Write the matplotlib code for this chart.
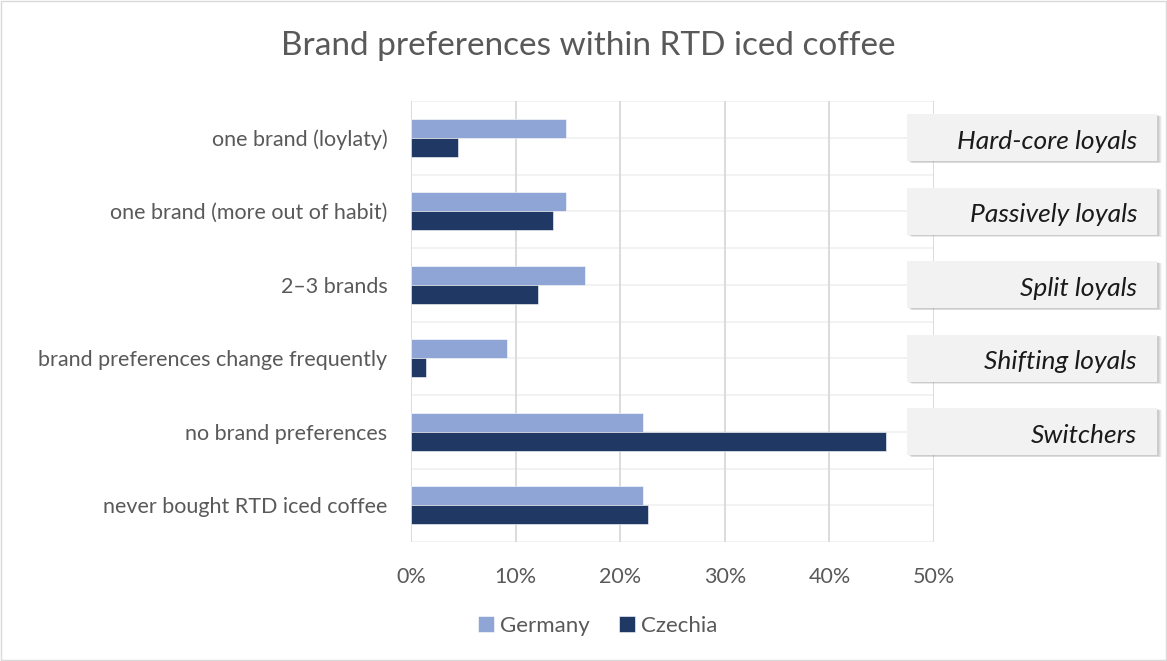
import matplotlib.pyplot as plt
from matplotlib.patches import Rectangle
from matplotlib.transforms import blended_transform_factory
import numpy as np

plt.rcParams['font.family'] = ['Lato', 'DejaVu Sans']

categories = ['one brand (loylaty)', 'one brand (more out of habit)', '2\u20133 brands',
              'brand preferences change frequently', 'no brand preferences',
              'never bought RTD iced coffee']
germany = [14.8, 14.8, 16.6, 9.2, 22.2, 22.2]
czechia = [4.5, 13.6, 12.1, 1.4, 45.4, 22.7]
segments = ['Hard-core loyals', 'Passively loyals', 'Split loyals', 'Shifting loyals', 'Switchers']

c_ger = '#8fa5d5'
c_cze = '#1f3864'
grey_txt = '#595959'

fig = plt.figure(figsize=(11.67, 6.61), dpi=100)
ax = fig.add_axes([411/1167, 1-542/661, (934-411)/1167, (542-101)/661])

y = np.arange(len(categories))[::-1]
h = 0.26
ax.barh(y + h/2, germany, h, color=c_ger, edgecolor='white', linewidth=0.4, label='Germany', zorder=3)
ax.barh(y - h/2, czechia, h, color=c_cze, edgecolor='white', linewidth=0.4, label='Czechia', zorder=3)

ax.set_xlim(0, 50)
ax.set_ylim(-0.5, 5.5)
ax.set_xticks(range(0, 51, 10))
ax.set_xticklabels([f'{v}%' for v in range(0, 51, 10)])
ax.set_yticks(y)
ax.set_yticklabels(categories)
ax.tick_params(length=0, labelsize=15.5, labelcolor=grey_txt)
ax.tick_params(axis='x', pad=18)
ax.tick_params(axis='y', pad=17)

for v in range(0, 51, 10):
    ax.axvline(v, color='#d9d9d9', lw=1.3, zorder=1)
for yy in np.arange(-0.5, 5.51, 0.5):
    ax.axhline(yy, color='#f0f0f0', lw=1.2, zorder=0.5)
for s in ax.spines.values():
    s.set_visible(False)

# segment boxes on the right
tr = blended_transform_factory(fig.transFigure, ax.transData)
x0, x1 = 907/1167, 1157/1167
bh = 0.64
for i, name in enumerate(segments):
    yc = y[i]
    for dx, a in [(5, 0.08), (4, 0.1), (3, 0.13), (2, 0.16)]:
        fig.patches.append(Rectangle((x0 + dx/1167, yc - bh/2 - dx*0.006), x1 - x0, bh,
                                     transform=tr, facecolor='#808080', alpha=a,
                                     edgecolor='none', zorder=4, clip_on=False))
    fig.patches.append(Rectangle((x0, yc - bh/2), x1 - x0, bh, transform=tr,
                                 facecolor='#f2f2f2', edgecolor='none', zorder=5, clip_on=False))
    fig.text(1137/1167, yc - 0.05, name, transform=tr, ha='right', va='center',
             fontsize=19, style='italic', color='#1a1a1a', zorder=6)

fig.text(588/1167, 1-46/661, 'Brand preferences within RTD iced coffee', ha='center', va='center',
         fontsize=24, color=grey_txt)

fig.legend(loc='center', bbox_to_anchor=(598/1167, 1-626/661), ncol=2, frameon=False,
           fontsize=16, labelcolor=grey_txt, handlelength=0.7, handleheight=0.7,
           handletextpad=0.3, columnspacing=1.3)

fig.patches.append(Rectangle((1/1167, 1/661), 1165/1167, 659/661, transform=fig.transFigure,
                             fill=False, edgecolor='#d9d9d9', lw=1))

fig.savefig('out.png', dpi=100)
